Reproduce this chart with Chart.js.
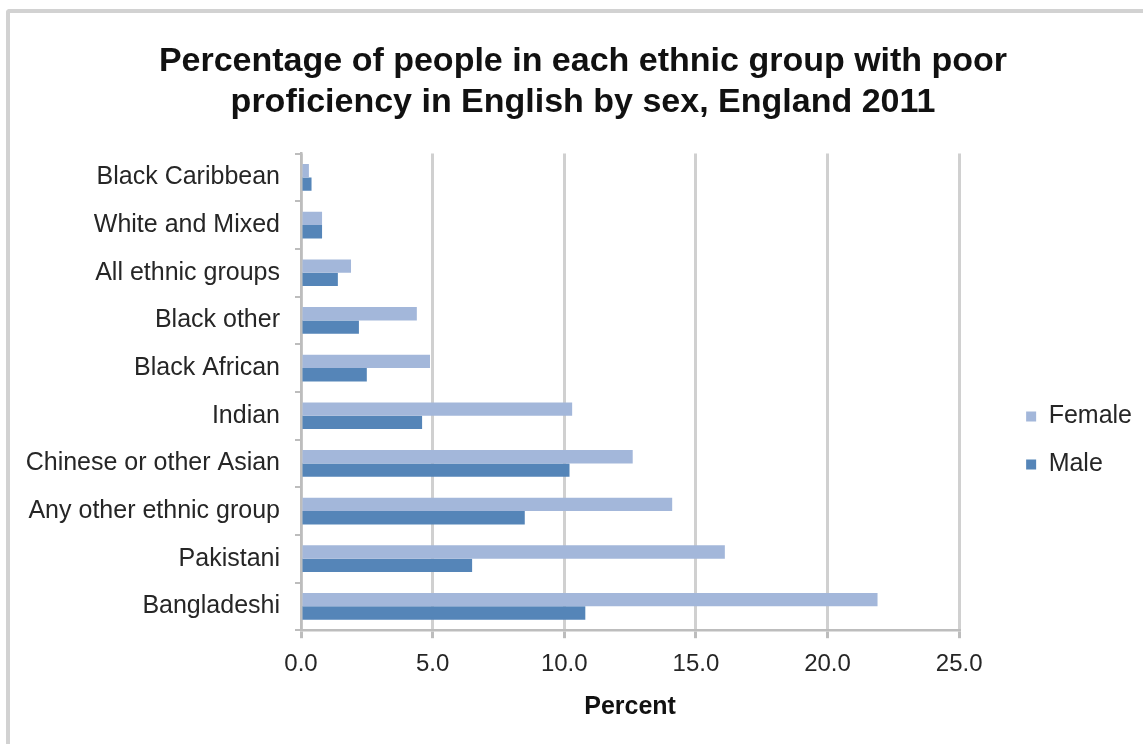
<!DOCTYPE html>
<html>
<head>
<meta charset="utf-8">
<script src="https://cdn.jsdelivr.net/npm/chart.js@4"></script>
<style>
  body { margin: 0; background: #fff; }
  .frame {
    position: absolute; left: 6px; top: 9px; width: 1200px; height: 800px;
    border-left: 4px solid #d2d2d2; border-top: 4px solid #d2d2d2;
    border-top-left-radius: 4px;
  }
  .wrap { position: absolute; left: 0; top: 0; width: 1143px; height: 744px; }
</style>
</head>
<body>
<div class="frame"></div>
<div class="wrap"><canvas id="chart"></canvas></div>
<script>
// data
const groups = [
    'Black Caribbean', 'White and Mixed', 'All ethnic groups', 'Black other', 'Black African',
    'Indian', 'Chinese or other Asian', 'Any other ethnic group', 'Pakistani', 'Bangladeshi'
];
const female = [0.3, 0.8, 1.9, 4.4, 4.9, 10.3, 12.6, 14.1, 16.1, 21.9];
const male = [0.4, 0.8, 1.4, 2.2, 2.5, 4.6, 10.2, 8.5, 6.5, 10.8];
const xTicks = [0, 5, 10, 15, 20, 25];

const font = "'Liberation Sans', Arial, sans-serif";
const gridGrey = '#d0d0d0';
const axisGrey = '#bdbdbd';

const ctx = document.querySelector('#chart').getContext('2d');

new Chart(ctx, {
    type: 'bar',
    data: {
        labels: groups,
        datasets: [
            { label: 'Female', data: female, backgroundColor: '#a3b7da', yAxisID: 'y' },
            { label: 'Male', data: male, backgroundColor: '#5585b8', yAxisID: 'y' }
        ]
    },
    options: {
        indexAxis: 'y',
        responsive: true,
        maintainAspectRatio: false,
        animation: false,
        datasets: { bar: { barPercentage: 1, categoryPercentage: 0.56 } },
        layout: { padding: { left: 24, right: 1, top: 0, bottom: 18 } },
        scales: {
            x: {
                min: xTicks[0],
                max: xTicks[xTicks.length - 1],
                afterBuildTicks: (s) => { s.ticks = xTicks.map(v => ({ value: v })); },
                grid: { color: gridGrey, lineWidth: 3, tickLength: 8, tickColor: axisGrey },
                border: { color: axisGrey, width: 2.5 },
                ticks: {
                    padding: 12, color: '#262626',
                    font: { family: font, size: 24 },
                    callback: (v) => Number(v).toFixed(1)
                },
                title: {
                    display: true, text: 'Percent', color: '#111',
                    font: { family: font, size: 25, weight: 'bold' },
                    padding: { top: 1, bottom: 4 }
                }
            },
            y: {
                grid: { drawOnChartArea: false, color: axisGrey, lineWidth: 2, tickLength: 6 },
                border: { color: axisGrey, width: 2.5 },
                ticks: { padding: 15, color: '#262626', font: { family: font, size: 25 } },
                afterFit: (s) => { s.width = 277; }
            },
            // empty spacer between the plot and the legend
            gap: {
                type: 'linear', axis: 'y', position: 'right',
                grid: { display: false }, border: { display: false }, ticks: { display: false },
                afterFit: (s) => { s.width = 44; }
            }
        },
        plugins: {
            title: {
                display: true,
                text: ['Percentage of people in each ethnic group with poor',
                       'proficiency in English by sex, England 2011'],
                color: '#111',
                font: { family: font, size: 34, weight: 'bold', lineHeight: 1.2 },
                padding: { top: 41, bottom: 31 }
            },
            legend: {
                position: 'right',
                align: 'start',
                // blank legend title only pushes the two items down
                title: { display: true, text: '', font: { size: 10, lineHeight: 1 }, padding: { top: 371, bottom: 0 } },
                labels: {
                    boxWidth: 10, boxHeight: 10, padding: 23, color: '#262626',
                    font: { family: font, size: 25 }
                }
            },
            tooltip: { enabled: false }
        }
    }
});
</script>
</body>
</html>
